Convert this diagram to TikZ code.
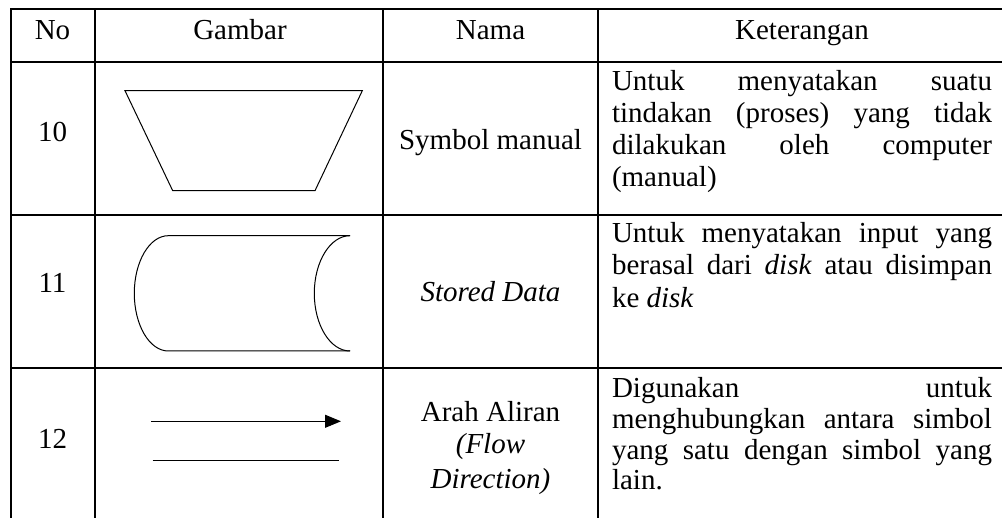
\documentclass[tikz,border=0pt]{standalone}
\usepackage{fontspec}
\setmainfont{Liberation Serif}
\usepackage{graphicx}
\usetikzlibrary{arrows.meta}
\newcommand\tabfont{\fontsize{29}{31.7}\selectfont}
\newcommand\xs[1]{\scalebox{1.0}[1]{#1}}
\newcommand\justl[1]{\xs{\makebox[380pt][s]{#1}}}
\begin{document}
\begin{tikzpicture}[x=1pt,y=-1pt,
  gridline/.style={line width=1.6pt, black},
  shp/.style={line width=1pt, black},
  txt/.style={inner sep=0pt, outer sep=0pt, font=\tabfont},
  ctr/.style={txt, anchor=base},
  lft/.style={txt, anchor=base west}]
\useasboundingbox (0,0) rectangle (1002,518);
\fill[white] (0,0) rectangle (1002,518);
% table grid
\draw[gridline] (10.2,9) -- (1002,9);
\draw[gridline] (11,62) -- (1002,62);
\draw[gridline] (11,215) -- (1002,215);
\draw[gridline] (11,368) -- (1002,368);
\draw[gridline] (11,9) -- (11,518);
\draw[gridline] (95,9) -- (95,518);
\draw[gridline] (383,9) -- (383,518);
\draw[gridline] (598,9) -- (598,518);
% header
\node[ctr] (hno) at (52.5,39.5) {\xs{No}};
\node[ctr] (hgb) at (240,39.5) {\xs{Gambar}};
\node[ctr] (hnm) at (490.5,39.5) {\xs{Nama}};
\node[ctr] (hkt) at (802,39.5) {\xs{Keterangan}};
% numbers
\node[ctr] (n10) at (52.5,141.7) {\xs{10}};
\node[ctr] (n11) at (52.5,293) {\xs{11}};
\node[ctr] (n12) at (52.5,448.7) {\xs{12}};
% shapes
\draw[shp] (125,90.7) -- (362.3,90.7) -- (315,190.7) -- (172.7,190.7) -- cycle;
\draw[shp] (350,235.7) -- (168.3,235.7)
  arc[start angle=270, end angle=90, x radius=34, y radius=57.65]
  -- (350,351);
\draw[shp] (350,235.7)
  arc[start angle=270, end angle=90, x radius=35.7, y radius=57.65];
\coordinate (a1s) at (151,421.3);
\coordinate (a1e) at (341,421.3);
\coordinate (a2s) at (152.7,460.3);
\coordinate (a2e) at (339,460.3);
\draw[shp, -{Triangle[length=16pt,width=13pt]}] (a1s) -- (a1e);
\draw[shp] (a2s) -- (a2e);
% names
\node[ctr] (nm10) at (490.5,149.3) {\xs{Symbol manual}};
\node[ctr] (nm11) at (490.5,301.7) {\xs{\textit{Stored Data}}};
\node[ctr] (nm12a) at (490.5,421.7) {\xs{Arah Aliran}};
\node[ctr] (nm12b) at (490.5,453.5) {\xs{\textit{(Flow}}};
\node[ctr] (nm12c) at (490.5,488.3) {\xs{\textit{Direction)}}};
% keterangan row 10
\node[lft] (k10a) at (612,91) {\justl{Untuk menyatakan suatu}};
\node[lft] (k10b) at (612,122.7) {\justl{tindakan (proses) yang tidak}};
\node[lft] (k10c) at (612,154.4) {\justl{dilakukan oleh computer}};
\node[lft] (k10d) at (612,186.1) {\xs{(manual)}};
% keterangan row 11
\node[lft] (k11a) at (612,243) {\justl{Untuk menyatakan input yang}};
\node[lft] (k11b) at (612,275) {\justl{berasal dari \textit{disk} atau disimpan}};
\node[lft] (k11c) at (612,307.2) {\xs{ke \textit{disk}}};
% keterangan row 12
\node[lft] (k12a) at (612,397.3) {\justl{Digunakan untuk}};
\node[lft] (k12b) at (612,428.3) {\justl{menghubungkan antara simbol}};
\node[lft] (k12c) at (612,459.3) {\justl{yang satu dengan simbol yang}};
\node[lft] (k12d) at (612,490) {\xs{lain.}};
\end{tikzpicture}
\end{document}
